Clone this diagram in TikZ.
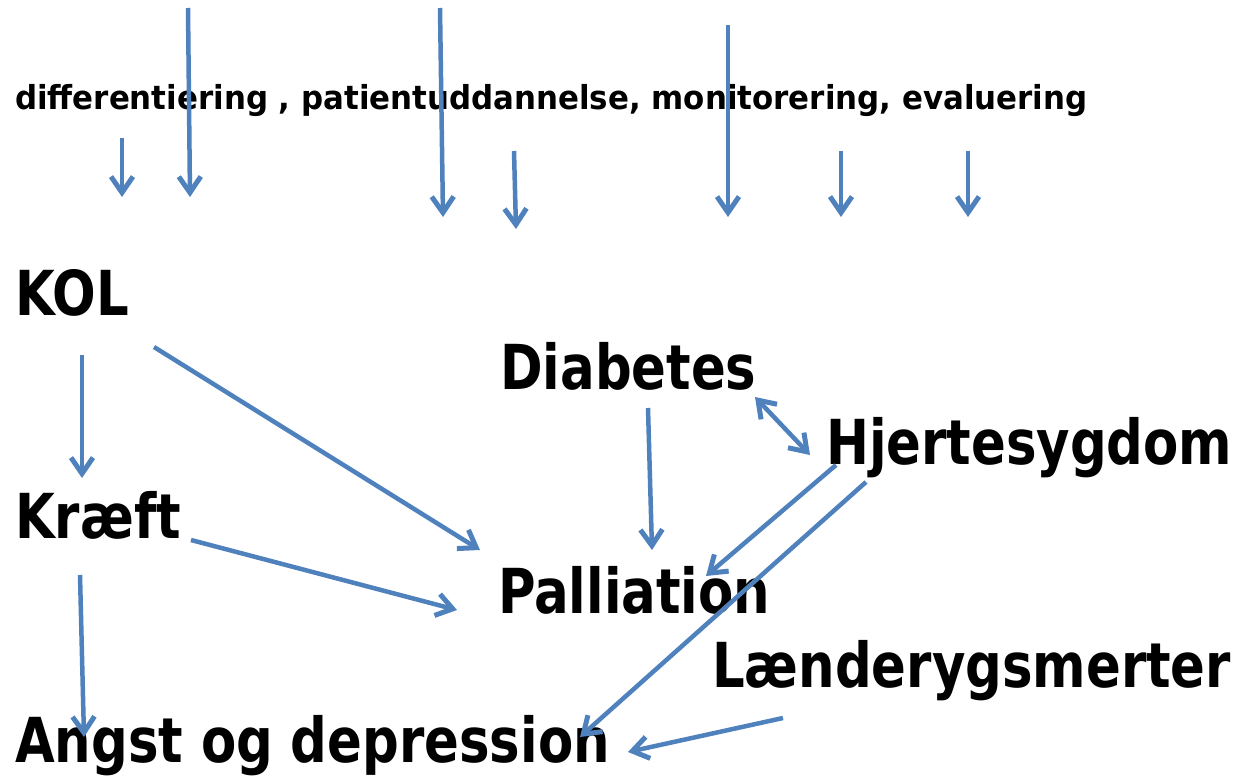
\documentclass[tikz,border=0pt]{standalone}
\usepackage{fontspec}
\setmainfont{DejaVu Sans Condensed}[BoldFont={DejaVu Sans Condensed Bold}]
\newfontfamily\bigfont{DejaVu Sans Condensed Bold}[FakeStretch=0.92]
\newfontfamily\smallfont{DejaVu Sans Condensed Bold}[FakeStretch=1.04]
\usetikzlibrary{arrows.meta}
\definecolor{arrowblue}{HTML}{4F81BD}
\tikzset{
  lbl/.style={anchor=base west, inner sep=0pt, font=\bigfont\fontsize{62}{62}\selectfont},
  toplbl/.style={anchor=base west, inner sep=0pt, font=\smallfont\fontsize{33}{33}\selectfont},
  barb/.tip={Straight Barb[length=16pt,width=22pt,line width=5pt]},
  arr/.style={draw=arrowblue, line width=4.5pt, -barb},
  darr/.style={draw=arrowblue, line width=4.5pt, barb-barb}
}
\begin{document}
\begin{tikzpicture}[x=1pt,y=-1pt]
\useasboundingbox (0,0) rectangle (1247,778);
% labels
\node[toplbl] (top) at (15,110) {differentiering , patientuddannelse, monitorering, evaluering};
\node[lbl] (kol) at (15,315) {KOL};
\node[lbl] (dia) at (500,389) {Diabetes};
\node[lbl] (hje) at (826,464) {Hjertesygdom};
\node[lbl] (kra) at (15,538) {Kræft};
\node[lbl] (pal) at (498,613) {Palliation};
\node[lbl] (lae) at (712,687) {Lænderygsmerter};
\node[lbl] (ang) at (15,762) {Angst og depression};
% coordinates for top arrows
\coordinate (t1a) at (122,138); \coordinate (t1b) at (122,197);
\coordinate (t2a) at (188,8);   \coordinate (t2b) at (190,197);
\coordinate (t3a) at (440,8);   \coordinate (t3b) at (443,217);
\coordinate (t4a) at (514,151); \coordinate (t4b) at (516,229);
\coordinate (t5a) at (728,25);  \coordinate (t5b) at (728,217);
\coordinate (t6a) at (841,151); \coordinate (t6b) at (841,217);
\coordinate (t7a) at (968,151); \coordinate (t7b) at (968,217);
\foreach \i in {1,...,7} {\draw[arr] (t\i a) -- (t\i b);}
% body arrow ends
\coordinate (kolS) at (82,355);   \coordinate (kraN) at (82,478);
\coordinate (kolE) at (154,347);  \coordinate (palNW) at (480,550);
\coordinate (kraE) at (191,540);  \coordinate (palW) at (457,610);
\coordinate (kraS) at (80,575);   \coordinate (angN) at (84,737);
\coordinate (diaS) at (648,408);  \coordinate (palN) at (652,550);
\coordinate (diaE) at (755,397);  \coordinate (hjeW) at (810,455);
\coordinate (hjeS1) at (836,465); \coordinate (palNE) at (706,576);
\coordinate (hjeS2) at (866,482); \coordinate (angNE) at (580,737);
\coordinate (laeS) at (783,718);  \coordinate (angE) at (628,752);
\draw[arr] (kolS) -- (kraN);
\draw[arr] (kolE) -- (palNW);
\draw[arr] (kraE) -- (palW);
\draw[arr] (kraS) -- (angN);
\draw[arr] (diaS) -- (palN);
\draw[darr] (diaE) -- (hjeW);
\draw[arr] (hjeS1) -- (palNE);
\draw[arr] (hjeS2) -- (angNE);
\draw[arr] (laeS) -- (angE);
\end{tikzpicture}
\end{document}
